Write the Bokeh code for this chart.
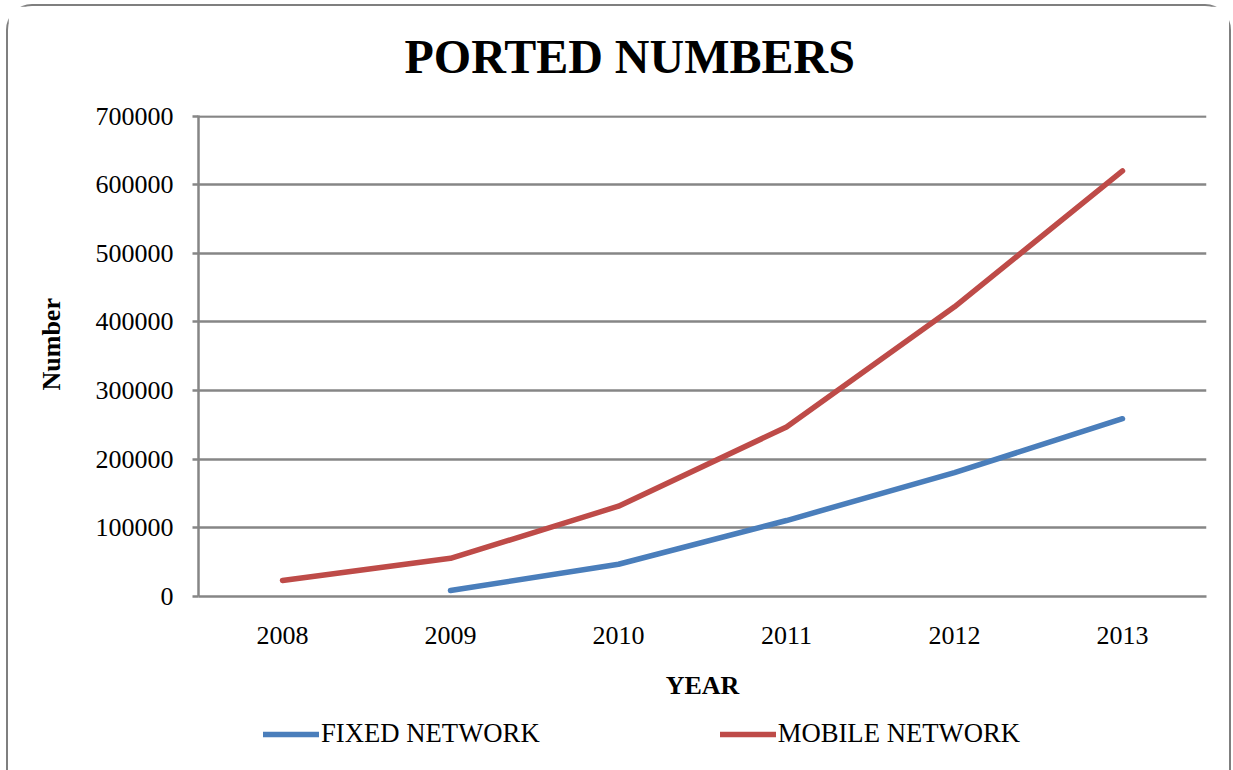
from bokeh.plotting import figure
from bokeh.layouts import column
from bokeh.models import Range1d, FactorRange, ColumnDataSource, Legend, LegendItem, NumeralTickFormatter, FixedTicker, Title
from bokeh.embed import file_html
from bokeh.resources import INLINE

years = ["2008", "2009", "2010", "2011", "2012", "2013"]
fixed_years = ["2009", "2010", "2011", "2012", "2013"]
fixed_network = [8700, 47000, 110700, 180500, 259000]
mobile_network = [23300, 55600, 131500, 247000, 422000, 620000]
y_ticks = [0, 100000, 200000, 300000, 400000, 500000, 600000, 700000]
series_names = ["FIXED NETWORK", "MOBILE NETWORK"]
chart_title = "PORTED NUMBERS"
x_title = "YEAR"
y_title = "Number"

SERIF = "Liberation Serif"
GRID = "#868686"
BLUE = "#4A7EBB"
RED = "#BE4B48"
LW = 5.5

p = figure(width=1221, height=710, x_range=FactorRange(*years, range_padding=0),
           y_range=Range1d(0, 700800), output_backend="svg", toolbar_location=None,
           min_border_left=189, min_border_right=23, min_border_top=109, min_border_bottom=120,
           title=chart_title)
p.background_fill_color = "white"
p.border_fill_color = "white"
p.outline_line_color = None

p.title.text_font = SERIF
p.title.text_font_size = "48px"
p.title.text_font_style = "bold"
p.title.text_color = "black"
p.title.align = "left"
p.title.offset = 206
p.title.standoff = 20
# spacer between the title and the plot area
p.add_layout(Title(text=" ", text_font_size="19px", standoff=0), "above")

fixed_src = ColumnDataSource(dict(x=fixed_years, y=fixed_network))
mobile_src = ColumnDataSource(dict(x=years, y=mobile_network))
p.line("x", "y", source=fixed_src, line_color=BLUE, line_width=LW, line_cap="round", line_join="round")
p.line("x", "y", source=mobile_src, line_color=RED, line_width=LW, line_cap="round", line_join="round")

p.xgrid.grid_line_color = None
p.ygrid.grid_line_color = GRID
p.ygrid.grid_line_width = 2.5

yax = p.yaxis[0]
yax.ticker = FixedTicker(ticks=y_ticks)
yax.formatter = NumeralTickFormatter(format="0")
yax.axis_line_color = GRID
yax.axis_line_width = 2.5
yax.major_tick_line_color = GRID
yax.major_tick_line_width = 2.5
yax.major_tick_out = 6
yax.major_tick_in = 0
yax.minor_tick_line_color = None
yax.major_label_standoff = 19
yax.major_label_text_font = SERIF
yax.major_label_text_font_size = "26px"
yax.major_label_text_color = "black"

# y axis title, placed as a side title so it can sit where the reference has it
p.add_layout(Title(text=y_title, text_font=SERIF, text_font_size="26px", text_font_style="bold",
                   text_color="black", align="left", offset=206, standoff=53,
                   vertical_align="bottom"), "left")

xax = p.xaxis[0]
xax.axis_line_color = GRID
xax.axis_line_width = 2.5
xax.major_tick_line_color = None
xax.major_tick_out = 0
xax.major_tick_in = 0
xax.minor_tick_line_color = None
xax.major_label_standoff = 30
xax.major_label_text_font = SERIF
xax.major_label_text_font_size = "26px"
xax.major_label_text_color = "black"
xax.axis_label = x_title
xax.axis_label_text_font = SERIF
xax.axis_label_text_font_size = "26px"
xax.axis_label_text_font_style = "bold"
xax.axis_label_text_color = "black"
xax.axis_label_standoff = 24

# legend strip below the chart
lg = figure(width=1221, height=54, x_range=Range1d(0, 1), y_range=Range1d(0, 1),
            output_backend="svg", toolbar_location=None,
            min_border_left=0, min_border_right=0, min_border_top=0, min_border_bottom=0)
lg.axis.visible = False
lg.grid.visible = False
lg.outline_line_color = None
lg.background_fill_color = "white"
lg.border_fill_color = "white"
nan = float("nan")
l_fixed = lg.line(x=[nan], y=[nan], line_color=BLUE, line_width=LW, line_cap="round")
l_mobile = lg.line(x=[nan], y=[nan], line_color=RED, line_width=LW, line_cap="round")
legend = Legend(items=[LegendItem(label=series_names[0], renderers=[l_fixed]),
                       LegendItem(label=series_names[1], renderers=[l_mobile])],
                orientation="horizontal", location=(65, 21),
                glyph_width=56, glyph_height=26, label_height=26, label_standoff=2,
                spacing=180, padding=0, margin=0,
                border_line_color=None, background_fill_alpha=0,
                label_text_font=SERIF, label_text_font_size="26.7px", label_text_color="black")
lg.add_layout(legend, "center")

layout = column(p, lg, spacing=0)
layout.margin = (6, 4, 0, 8)
layout.styles = {"box-shadow": "0 0 0 2px #7f7f7f", "border-radius": "24px 24px 0 0", "background": "white"}

open("out.html", "w").write(file_html(layout, INLINE))
